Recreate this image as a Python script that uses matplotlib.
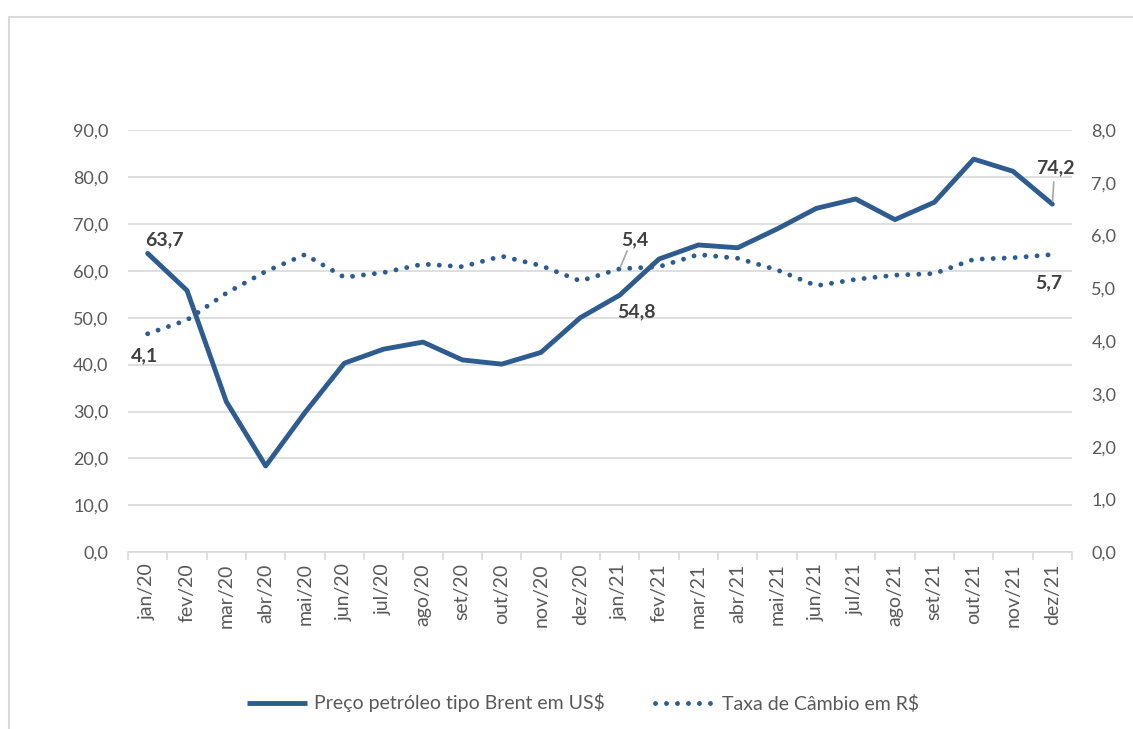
import matplotlib
matplotlib.use("Agg")
import matplotlib.pyplot as plt
from matplotlib.patches import Rectangle
from matplotlib.lines import Line2D
import numpy as np

plt.rcParams['font.family'] = ['Lato', 'DejaVu Sans']

months = ["jan/20", "fev/20", "mar/20", "abr/20", "mai/20", "jun/20", "jul/20", "ago/20",
          "set/20", "out/20", "nov/20", "dez/20", "jan/21", "fev/21", "mar/21", "abr/21",
          "mai/21", "jun/21", "jul/21", "ago/21", "set/21", "out/21", "nov/21", "dez/21"]
brent = [63.7, 55.8, 32.1, 18.4, 29.8, 40.3, 43.3, 44.8, 41.0, 40.1, 42.6, 50.0,
         54.8, 62.5, 65.5, 64.9, 68.9, 73.3, 75.3, 70.9, 74.6, 83.8, 81.2, 74.2]
cambio = [4.14, 4.40, 4.91, 5.32, 5.64, 5.21, 5.30, 5.46, 5.41, 5.61, 5.43, 5.14,
          5.37, 5.41, 5.64, 5.57, 5.35, 5.05, 5.17, 5.25, 5.28, 5.55, 5.58, 5.64]
left_ticks = [0, 10, 20, 30, 40, 50, 60, 70, 80, 90]
right_ticks = [0, 1, 2, 3, 4, 5, 6, 7, 8]
legend_labels = ["Preço petróleo tipo Brent em US$", "Taxa de Câmbio em R$"]

W, H = 1133, 729
fig = plt.figure(figsize=(W / 100, H / 100), dpi=100)
fig.patch.set_facecolor("white")

# outer chart frame
fig.add_artist(Rectangle((9 / W, -0.1), 2, (H - 17) / H + 0.1, transform=fig.transFigure,
                         fill=False, edgecolor="#d9d9d9", lw=1.5))

L, R, T, B = 128, 1072, 130, 552.3
ax = fig.add_axes([L / W, 1 - B / H, (R - L) / W, (B - T) / H])
ax2 = ax.twinx()

blue = "#2F5C8F"
gray_txt = "#595959"
grid_c = "#d9d9d9"

x = np.arange(len(months))
ax.plot(x, brent, color=blue, lw=3.5, solid_capstyle="round", solid_joinstyle="round", zorder=3)
ax2.plot(x, cambio, color=blue, lw=3.5, linestyle=(0, (0.01, 2.25)), dash_capstyle="round", zorder=3)

ax.set_xlim(-0.5, len(months) - 0.5)
ax.set_ylim(0, 90)
ax2.set_ylim(0, 8)
ax.set_yticks(left_ticks)
ax.set_yticklabels([f"{v:.1f}".replace(".", ",") for v in left_ticks])
ax2.set_yticks(right_ticks)
ax2.set_yticklabels([f"{v:.1f}".replace(".", ",") for v in right_ticks])

ax.grid(axis="y", color=grid_c, lw=1.2)
ax.set_axisbelow(True)
for a in (ax, ax2):
    for s in a.spines.values():
        s.set_visible(False)
ax.spines["bottom"].set_visible(True)
ax.spines["bottom"].set_color(grid_c)
ax.spines["bottom"].set_linewidth(1.2)

ax.tick_params(axis="y", length=0, pad=14, labelsize=13, labelcolor=gray_txt)
ax2.tick_params(axis="y", length=0, pad=14, labelsize=13, labelcolor=gray_txt)

# category boundary ticks and centred labels
ax.set_xticks(np.arange(-0.5, len(months), 1.0))
ax.set_xticklabels([])
ax.tick_params(axis="x", which="major", length=6, color=grid_c, width=1.2)
ax.set_xticks(x, minor=True)
ax.set_xticklabels(months, minor=True, rotation=90)
ax.tick_params(axis="x", which="minor", length=0, pad=8, labelsize=14, labelcolor=gray_txt)

lab_c = "#404040"
def lab(axis, i, v, txt, dx, dy, leader=False):
    kw = dict(xy=(i, v), xytext=(dx, dy), textcoords="offset pixels", ha="center", va="center",
              fontsize=14, fontweight="bold", color=lab_c, zorder=5)
    axis.annotate(txt, **kw)
    if leader:
        axis.annotate("", xy=(i, v), xytext=(dx * 0.5, dy * 0.62), textcoords="offset pixels",
                      arrowprops=dict(arrowstyle="-", color="#a6a6a6", lw=1.2,
                                      shrinkA=0, shrinkB=2))

lab(ax, 0, brent[0], "63,7", 17, 14)
lab(ax2, 0, cambio[0], "4,1", -3, -22)
lab(ax2, 12, cambio[12], "5,4", 15, 29, leader=True)
lab(ax, 12, brent[12], "54,8", 17, -17)
lab(ax, 23, brent[23], "74,2", 3, 36, leader=True)
lab(ax2, 23, cambio[23], "5,7", -4, -28)

handles = [Line2D([], [], color=blue, lw=3.5, solid_capstyle="butt"),
           Line2D([], [], color=blue, lw=3.5, linestyle=(0, (0.01, 2.25)), dash_capstyle="round")]
fig.legend(handles, legend_labels, loc="center", bbox_to_anchor=(583 / W, 1 - 703 / H),
           ncol=2, frameon=False, fontsize=14, labelcolor=gray_txt, handlelength=3.1,
           handletextpad=0.35, columnspacing=2.6)

fig.savefig("out.png", dpi=100, facecolor="white")
